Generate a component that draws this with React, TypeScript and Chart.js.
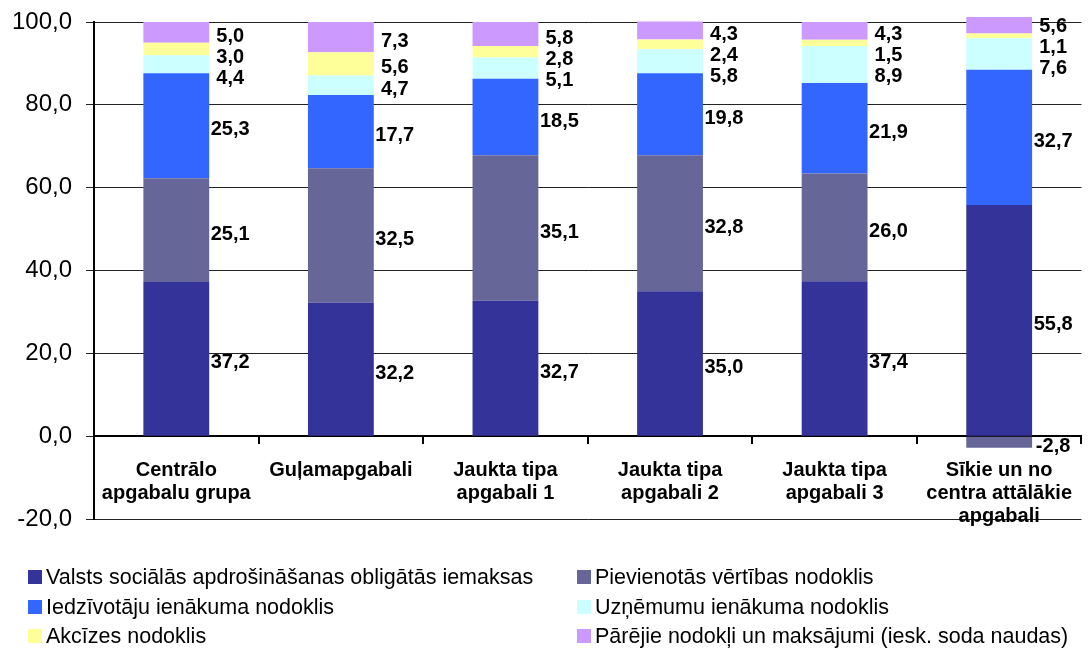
import React, { useEffect, useRef } from "react";
import { Chart, registerables } from "chart.js";

Chart.register(...registerables);

const categories: (string | string[])[] = [
  ["Centrālo", "apgabalu grupa"],
  "Guļamapgabali",
  ["Jaukta tipa", "apgabali 1"],
  ["Jaukta tipa", "apgabali 2"],
  ["Jaukta tipa", "apgabali 3"],
  ["Sīkie un no", "centra attālākie", "apgabali"],
];

const seriesNames = [
  "Valsts sociālās apdrošināšanas obligātās iemaksas",
  "Pievienotās vērtības nodoklis",
  "Iedzīvotāju ienākuma nodoklis",
  "Uzņēmumu ienākuma nodoklis",
  "Akcīzes nodoklis",
  "Pārējie nodokļi un maksājumi (iesk. soda naudas)",
];

const valsts = [37.2, 32.2, 32.7, 35.0, 37.4, 55.8];
const pvn = [25.1, 32.5, 35.1, 32.8, 26.0, -2.8];
const iedzivotaju = [25.3, 17.7, 18.5, 19.8, 21.9, 32.7];
const uznemumu = [4.4, 4.7, 5.1, 5.8, 8.9, 7.6];
const akcizes = [3.0, 5.6, 2.8, 2.4, 1.5, 1.1];
const parejie = [5.0, 7.3, 5.8, 4.3, 4.3, 5.6];

const seriesData = [valsts, pvn, iedzivotaju, uznemumu, akcizes, parejie];
const colors = ["#333399", "#666699", "#3366FF", "#CCFFFF", "#FFFF99", "#CC99FF"];

const yMin = -20;
const yMax = 100;
const yStep = 20;

const FONT = '"Liberation Sans", Arial, sans-serif';
const fmt = (v: number) => v.toFixed(1).replace(".", ",");

const labelPlugin = {
  id: "segLabels",
  afterDatasetsDraw(chart: any) {
    const ctx = chart.ctx;
    ctx.save();
    ctx.font = `bold 20px ${FONT}`;
    ctx.fillStyle = "#000";
    ctx.textAlign = "center";
    ctx.textBaseline = "middle";
    const n = chart.data.labels.length;
    for (let i = 0; i < n; i++) {
      const items: { x: number; c: number; v: number }[] = [];
      chart.data.datasets.forEach((ds: any, di: number) => {
        const el = chart.getDatasetMeta(di).data[i];
        if (!el) return;
        items.push({ x: el.x + el.width / 2 + 21, c: (el.y + el.base) / 2 + 4, v: ds.data[i] });
      });
      items.sort((a, b) => a.c - b.c);
      let prev = -Infinity;
      for (const it of items) {
        const y = Math.max(it.c, prev + 21);
        prev = y;
        ctx.fillText(fmt(it.v), it.x, y);
      }
    }
    ctx.restore();
  },
};

const legendPlugin = {
  id: "gridLegend",
  afterDraw(chart: any) {
    const ctx = chart.ctx;
    ctx.save();
    ctx.font = `21.5px ${FONT}`;
    ctx.textBaseline = "middle";
    ctx.textAlign = "left";
    const colX = [28, 577];
    const rowY = [577, 607, 636];
    chart.data.datasets.forEach((ds: any, i: number) => {
      const x = colX[i % 2];
      const y = rowY[Math.floor(i / 2)];
      ctx.fillStyle = ds.backgroundColor;
      ctx.fillRect(x, y - 7, 14, 14);
      ctx.fillStyle = "#000";
      ctx.fillText(ds.label, x + 18, y + 1);
    });
    ctx.restore();
  },
};

export default function App() {
  const ref = useRef<HTMLCanvasElement>(null);
  useEffect(() => {
    if (!ref.current) return;
    const chart = new Chart(ref.current, {
      type: "bar",
      data: {
        labels: categories as any,
        datasets: seriesNames.map((name, i) => ({
          label: name,
          data: seriesData[i],
          backgroundColor: colors[i],
          borderWidth: 0,
          categoryPercentage: 1,
          barPercentage: 0.4,
          clip: { left: 0, top: 5, right: 0, bottom: 0 } as any,
        })),
      },
      options: {
        responsive: false,
        animation: false,
        layout: { padding: { top: 22, bottom: 129, left: 0, right: 0 } },
        plugins: {
          legend: { display: false },
          tooltip: { enabled: false },
        },
        scales: {
          x: {
            stacked: true,
            position: { y: 0 } as any,
            border: { display: true, color: "#000", width: 2 },
            grid: {
              display: true,
              drawOnChartArea: false,
              drawTicks: true,
              tickLength: 7,
              color: "#000",
              lineWidth: 2,
              offset: true,
            },
            ticks: {
              autoSkip: false,
              maxRotation: 0,
              minRotation: 0,
              color: "#000",
              padding: 16,
              font: { family: FONT, size: 20, weight: "bold", lineHeight: 1.15 },
            },
          },
          y: {
            stacked: true,
            min: yMin,
            max: yMax,
            afterFit: (scale: any) => {
              scale.width = 94;
              scale.paddingTop = 0;
              scale.paddingBottom = 0;
            },
            border: { display: true, color: "#000", width: 2 },
            grid: { color: "#222", lineWidth: 1, tickLength: 8 },
            ticks: {
              stepSize: yStep,
              color: "#000",
              padding: 14,
              font: { family: FONT, size: 24, lineHeight: 0.6 },
              callback: (v: any) => fmt(Number(v)),
            },
          },
        },
      },
      plugins: [labelPlugin, legendPlugin],
    });
    return () => chart.destroy();
  }, []);
  return (
    <div style={{ position: "fixed", left: 0, top: 0, width: 1088, height: 648, background: "#fff" }}>
      <canvas ref={ref} width={1088} height={648} />
    </div>
  );
}
